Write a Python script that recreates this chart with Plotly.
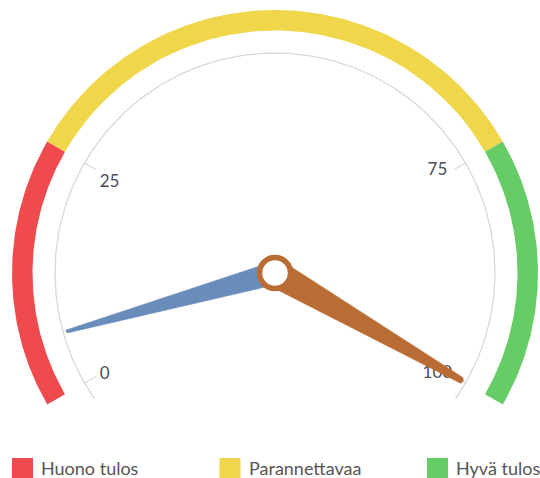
import numpy as np
import plotly.graph_objects as go

# ---------------- data ----------------
band_names = ["Huono tulos", "Parannettavaa", "Hyvä tulos"]
band_starts = [0, 25, 75]
band_ends = [25, 75, 100]
band_colors = ["#EF4A4D", "#F0D64A", "#66CC66"]

tick_values = [0, 25, 75, 100]
tick_labels = ["0", "25", "75", "100"]

hand_values = [6, 100]
hand_colors = ["#6A8CBA", "#BA6C35"]

# ---------------- styles / layout constants ----------------
W, H = 540, 478
CX, CY = 275, 273          # gauge centre in page pixels
R_OUT = 263                # outer band radius (1 unit == 1 px)
BAND_IN = 242.5
AXIS_R = 220
TICK_LEN = 13
LABEL_R = 191
LABEL_NUDGE = [(-5, -6), (0, -5), (-3, 7), (-3, -5)]   # px (x right, y up)
AXIS_MIN, AXIS_MAX = 0, 100
SWEEP = 240.0
START_ANGLE = 210.0        # screen angle (deg, ccw from east) of AXIS_MIN
OVERSHOOT = 4.8            # axis arc overshoot (deg)
hand_start_w = [23, 28]
hand_end_w = [4, 7]
HAND_LEN = 217
GRID_COL = "#d8d8d8"
TEXT_COL = "#4a4d55"
FONT = "Lato"


def angle(v):
    """value -> screen angle in radians (ccw from east, y up)"""
    return np.radians(START_ANGLE - (v - AXIS_MIN) / (AXIS_MAX - AXIS_MIN) * SWEEP)


def polar_xy(r, a):
    return r * np.cos(a), r * np.sin(a)


fig = go.Figure()

# colour bands
for name, s, e, c in zip(band_names, band_starts, band_ends, band_colors):
    a = np.linspace(angle(s), angle(e), 120)
    xo, yo = polar_xy(R_OUT, a)
    xi, yi = polar_xy(BAND_IN, a[::-1])
    fig.add_trace(go.Scatter(
        x=np.concatenate([xo, xi, xo[:1]]), y=np.concatenate([yo, yi, yo[:1]]),
        mode="lines", fill="toself", fillcolor=c, line=dict(width=0, color=c),
        name=name, showlegend=False, hoverinfo="name"))

# axis arc
deg = np.radians(OVERSHOOT)
a = np.linspace(angle(AXIS_MIN) + deg, angle(AXIS_MAX) - deg, 300)
ax_x, ax_y = polar_xy(AXIS_R, a)
fig.add_trace(go.Scatter(x=ax_x, y=ax_y, mode="lines",
                         line=dict(color=GRID_COL, width=1.3),
                         showlegend=False, hoverinfo="skip"))

# ticks
tx, ty = [], []
for v in tick_values:
    x0, y0 = polar_xy(AXIS_R, angle(v))
    x1, y1 = polar_xy(AXIS_R - TICK_LEN, angle(v))
    tx += [x0, x1, None]
    ty += [y0, y1, None]
fig.add_trace(go.Scatter(x=tx, y=ty, mode="lines",
                         line=dict(color=GRID_COL, width=1.3),
                         showlegend=False, hoverinfo="skip"))

# tick labels
lx, ly = polar_xy(LABEL_R, np.array([angle(v) for v in tick_values]))
lx = lx + np.array([n[0] for n in LABEL_NUDGE])
ly = ly + np.array([n[1] for n in LABEL_NUDGE])
fig.add_trace(go.Scatter(
    x=lx, y=ly, text=tick_labels, mode="text", textposition="middle center",
    textfont=dict(family=FONT, size=17, color=TEXT_COL),
    showlegend=False, hoverinfo="skip", cliponaxis=False))


def hand_polygon(v, w0, w1, length):
    rc = w1 / 2.0
    lc = length - rc
    loc = [(0.0, -w0 / 2.0)]
    for phi in np.linspace(-np.pi / 2, np.pi / 2, 15):
        loc.append((lc + rc * np.cos(phi), rc * np.sin(phi)))
    loc.append((0.0, w0 / 2.0))
    loc.append(loc[0])
    a = angle(v)
    ca, sa = np.cos(a), np.sin(a)
    xs = [p * ca - q * sa for p, q in loc]
    ys = [p * sa + q * ca for p, q in loc]
    return xs, ys


for v, c, w0, w1 in zip(hand_values, hand_colors, hand_start_w, hand_end_w):
    xs, ys = hand_polygon(v, w0, w1, HAND_LEN)
    fig.add_trace(go.Scatter(
        x=xs, y=ys, mode="lines", fill="toself", fillcolor=c,
        line=dict(color=c, width=0.5), showlegend=False, hoverinfo="skip"))

# pin of the last hand
fig.add_trace(go.Scatter(
    x=[0], y=[0], mode="markers",
    marker=dict(size=31, color="white", line=dict(color=hand_colors[-1], width=5.5)),
    showlegend=False, hoverinfo="skip", cliponaxis=False))

# legend (manual, large square swatches)
shapes, annotations = [], []
LEG_X0, LEG_STEP, SW, LEG_Y = 12, 207.5, 21, 458
for i, (name, c) in enumerate(zip(band_names, band_colors)):
    x0 = LEG_X0 + i * LEG_STEP
    shapes.append(dict(type="rect", xref="paper", yref="paper",
                       x0=x0 / W, x1=(x0 + SW) / W,
                       y0=1 - (LEG_Y + SW) / H, y1=1 - LEG_Y / H,
                       fillcolor=c, line=dict(width=0)))
    annotations.append(dict(x=(x0 + 27) / W, y=1 - (LEG_Y + 9.5) / H,
                            xref="paper", yref="paper", text=name,
                            showarrow=False, xanchor="left", yanchor="middle",
                            font=dict(family=FONT, size=18, color="#555555")))

fig.update_layout(
    width=W, height=H,
    margin=dict(l=0, r=0, t=0, b=0),
    paper_bgcolor="white", plot_bgcolor="white",
    showlegend=False,
    xaxis=dict(range=[-CX, W - CX], visible=False, fixedrange=True),
    yaxis=dict(range=[CY - H, CY], visible=False, fixedrange=True),
    shapes=shapes,
    annotations=annotations,
)

fig.write_html("out.html",
               config={"displayModeBar": False},
               post_script="document.body.style.margin='0px';"
                           "document.body.style.overflow='hidden';")
